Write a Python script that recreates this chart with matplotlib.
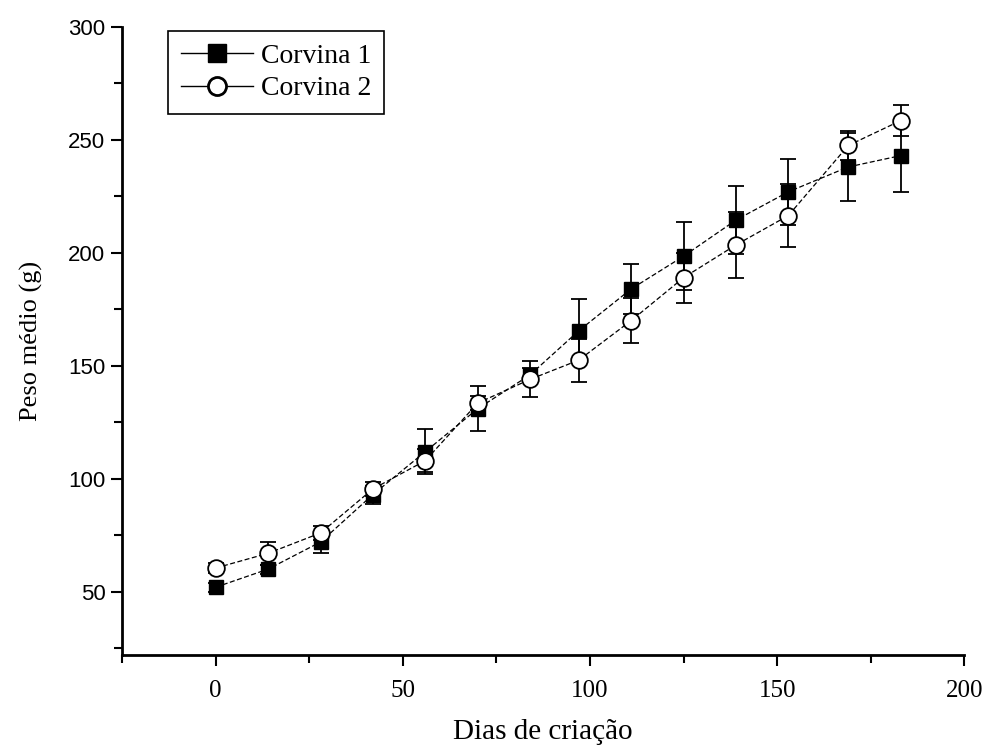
import matplotlib
matplotlib.use("Agg")
import matplotlib.pyplot as plt
from matplotlib.lines import Line2D
from matplotlib.ticker import MultipleLocator

# dias de criação
dias = [0, 14, 28, 42, 56, 70, 84, 97, 111, 125, 139, 153, 169, 183]

# peso médio (g) e desvio
corvina1 = [52, 60, 72, 93, 112, 131, 146, 165.5, 184, 198.5, 214.5, 227, 238, 243]
erro1 = [2, 2, 5, 4, 10, 10, 3, 14, 11, 15, 15, 14.5, 15, 16]
corvina2 = [60.5, 67, 76, 95.5, 108, 133.5, 144, 152.5, 170, 189, 203.5, 216.5, 247.5, 258.5]
erro2 = [2, 5, 3, 3, 5, 3, 8, 9.5, 10, 11, 14.5, 14, 6.5, 7]

serif = "Liberation Serif"
sans = "Liberation Sans"

fig = plt.figure(figsize=(9.85, 7.46), dpi=100)
ax = fig.add_axes([0.124, 0.122, 0.855, 0.842])

ax.errorbar(dias, corvina1, yerr=erro1, fmt="s", color="black", ms=10,
            mfc="black", mec="black", ecolor="black", elinewidth=1.3,
            capsize=6, capthick=1.3, zorder=3)
ax.plot(dias, corvina1, color="black", lw=0.9, ls=(0, (4, 2)), zorder=2)
ax.errorbar(dias, corvina2, yerr=erro2, fmt="o", color="black", ms=12,
            mfc="white", mec="black", mew=1.3, ecolor="black", elinewidth=1.3,
            capsize=6, capthick=1.3, zorder=4)
ax.plot(dias, corvina2, color="black", lw=0.9, ls=(0, (4, 2)), zorder=2)

ax.set_xlim(-25, 200)
ax.set_ylim(22, 300)
ax.xaxis.set_major_locator(MultipleLocator(50))
ax.xaxis.set_minor_locator(MultipleLocator(25))
ax.yaxis.set_major_locator(MultipleLocator(50))
ax.yaxis.set_minor_locator(MultipleLocator(25))
ax.set_yticks([50, 100, 150, 200, 250, 300])

for s in ["top", "right"]:
    ax.spines[s].set_visible(False)
for s in ["left", "bottom"]:
    ax.spines[s].set_linewidth(2)

ax.tick_params(which="major", direction="out", length=8, width=1.5)
ax.tick_params(which="minor", direction="out", length=6, width=1.5)
ax.tick_params(axis="x", pad=10)
ax.tick_params(axis="y", pad=4)
for t in ax.get_xticklabels():
    t.set_fontfamily(serif); t.set_fontsize(18)
for t in ax.get_yticklabels():
    t.set_fontfamily(sans); t.set_fontsize(16)

ax.set_xlabel("Dias de criação", fontfamily=serif, fontsize=21, labelpad=12)
ax.set_ylabel("Peso médio (g)", fontfamily=serif, fontsize=19, labelpad=18)

handles = [
    Line2D([], [], color="black", lw=1, marker="s", ms=13, mfc="black", mec="black"),
    Line2D([], [], color="black", lw=1, marker="o", ms=13, mfc="white", mec="black", mew=2),
]
leg = ax.legend(handles, ["Corvina 1", "Corvina 2"], loc="upper left",
                bbox_to_anchor=(0.05, 1.0), prop={"family": serif, "size": 20},
                fancybox=False, framealpha=1, edgecolor="black", borderpad=0.45,
                handlelength=2.6, handletextpad=0.3, labelspacing=0.25, borderaxespad=0.15)
leg.get_frame().set_linewidth(1.2)

fig.savefig("out.png", dpi=100)
